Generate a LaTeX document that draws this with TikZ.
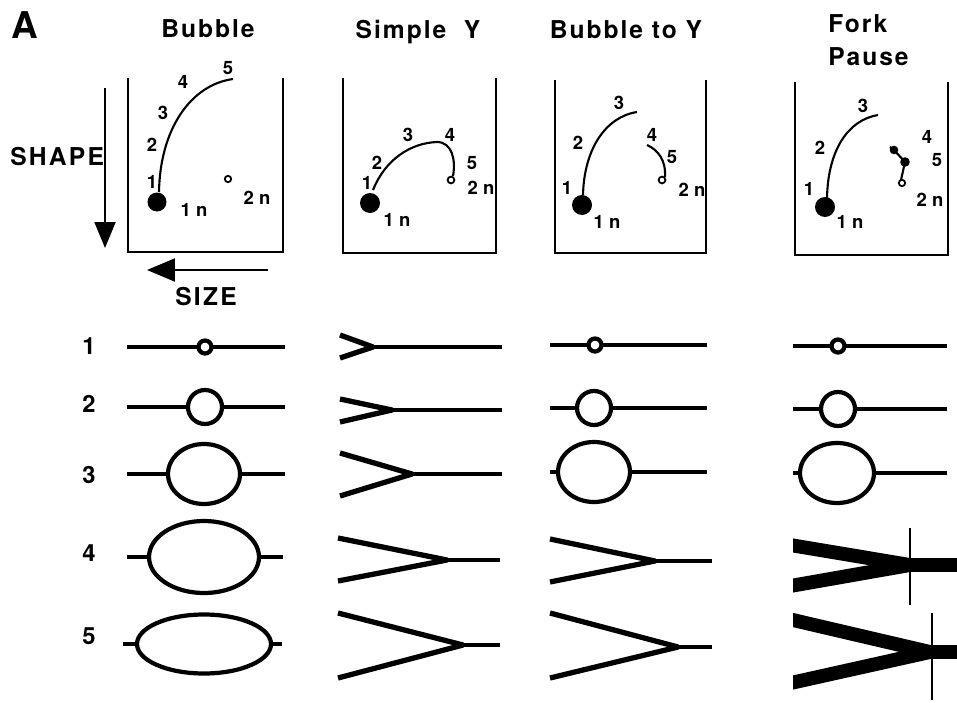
\documentclass[tikz,border=0pt]{standalone}
\usepackage{fontspec}
\setmainfont{TeX Gyre Heros}
\newfontfamily\headfont{TeX Gyre Heros}[LetterSpace=8]
\newfontfamily\axisfont{TeX Gyre Heros}[LetterSpace=9]
\usetikzlibrary{arrows.meta}

\begin{document}
\begin{tikzpicture}[x=0.02cm, y=-0.02cm,
    hdr/.style={font=\headfont\bfseries\fontsize{14}{16}\selectfont, anchor=base},
    num/.style={font=\bfseries\fontsize{10.5}{12}\selectfont},
    row/.style={font=\bfseries\fontsize{13.5}{15}\selectfont},
    axis/.style={font=\axisfont\bfseries\fontsize{14}{16}\selectfont},
    wall/.style={line width=1.4pt},
    track/.style={line width=1.2pt},
    bub/.style={line width=2.4pt},
    fork/.style={line width=3pt, line join=round},
    fatfork/.style={line width=7.9pt},
  ]
  \useasboundingbox (0,0) rectangle (957,703);

  % titles
  \node[font=\bfseries\fontsize{21}{24}\selectfont, anchor=base west, inner sep=0pt] (lblA) at (11,38) {A};
  \node[hdr] (tBubble) at (208,37) {Bubble};
  \node[hdr] (tSimple) at (418,38) {Simple\ \ Y};
  \node[hdr] (tBubY) at (626,38) {Bubble to Y};
  \node[hdr, anchor=base west, inner sep=0pt] (tFork) at (828,32) {Fork};
  \node[hdr, anchor=base west, inner sep=0pt] (tPause) at (828,65) {Pause};

  % axes
  \node[axis, anchor=base west, inner sep=0pt] (shape) at (10,165) {SHAPE};
  \draw[line width=1.2pt, -{Triangle[length=0.52cm, width=0.42cm]}] (105,88) -- (105,248);
  \node[axis, anchor=base, inner sep=0pt] (size) at (206,305) {SIZE};
  \draw[line width=1.2pt, -{Triangle[length=0.56cm, width=0.46cm]}] (268,270) -- (147,270);

  % --- Bubble box
  \draw[wall] (128,78) -- (128,252) -- (283,252) -- (283,78);
  \draw[track] (159,192) .. controls (160,130) and (190,85) .. (233,79);
  \fill (157,202) circle [radius=9.5];
  \draw[line width=1pt] (228,179) circle [radius=3.2];
  \node[num] (b1) at (152,182) {1};
  \node[num] (b2) at (152,145) {2};
  \node[num] (b3) at (163,113) {3};
  \node[num] (b4) at (183,82) {4};
  \node[num] (b5) at (228,68) {5};
  \node[num] (b1n) at (194,210) {1 n};
  \node[num] (b2n) at (257,198) {2 n};

  % --- Simple Y box
  \draw[wall] (343,78) -- (343,253) -- (496,253) -- (496,78);
  \draw[track] (373,190) .. controls (385,160) and (410,143) .. (437,142)
                .. controls (452,142) and (456,160) .. (453,176);
  \fill (370,203) circle [radius=10];
  \draw[line width=1pt] (451,180) circle [radius=3.4];
  \node[num] (s1) at (367,183) {1};
  \node[num] (s2) at (377,163) {2};
  \node[num] (s3) at (408,135) {3};
  \node[num] (s4) at (450,135) {4};
  \node[num] (s5) at (472,163) {5};
  \node[num] (s2n) at (481,188) {2 n};
  \node[num] (s1n) at (397,220) {1 n};

  % --- Bubble to Y box
  \draw[wall] (555,80) -- (555,253) -- (706,253) -- (706,80);
  \draw[track] (583,195) .. controls (584,150) and (605,117) .. (637,112);
  \draw[track] (647,145) .. controls (658,150) and (666,160) .. (665,177);
  \fill (582,205) circle [radius=10];
  \draw[line width=1pt] (662,180) circle [radius=3.4];
  \node[num] (y1) at (567,188) {1};
  \node[num] (y2) at (578,143) {2};
  \node[num] (y3) at (619,103) {3};
  \node[num] (y4) at (652,135) {4};
  \node[num] (y5) at (672,157) {5};
  \node[num] (y2n) at (692,190) {2 n};
  \node[num] (y1n) at (607,222) {1 n};

  % --- Fork pause box
  \draw[wall] (795,82) -- (795,255) -- (948,255) -- (948,82);
  \draw[track] (827,198) .. controls (828,150) and (848,120) .. (878,115);
  \draw[track] (890,147) -- (894,150) -- (905,162) -- (901,180);
  \fill (825,207) circle [radius=10];
  \fill (894,150) circle [radius=4.3];
  \fill (905,162) circle [radius=4.8];
  \draw[line width=1pt] (902,183) circle [radius=3.2];
  \node[num] (f1) at (809,189) {1};
  \node[num] (f2) at (820,148) {2};
  \node[num] (f3) at (863,106) {3};
  \node[num] (f4) at (927,137) {4};
  \node[num] (f5) at (937,160) {5};
  \node[num] (f2n) at (930,200) {2 n};
  \node[num] (f1n) at (850,222) {1 n};

  % row numbers
  \foreach \n/\y in {1/346,2/404,3/475,4/553,5/636}
    \node[row] (row\n) at (89,\y) {\n};

  % --- Bubble column
  \draw[bub] (127,347) -- (285,347);
  \draw[bub, fill=white] (205,347) circle [radius=6.5];
  \draw[bub] (127,407) -- (285,407);
  \draw[bub, fill=white] (205,407) circle [radius=17];
  \draw[bub] (127,474) -- (285,474);
  \draw[bub, fill=white] (204,474) ellipse [x radius=36, y radius=30];
  \draw[bub] (127,557) -- (283,557);
  \draw[bub, fill=white] (204,557) ellipse [x radius=55, y radius=36];
  \draw[bub] (123,644) -- (282,644);
  \draw[bub, fill=white] (204,644) ellipse [x radius=67, y radius=29.5];

  % --- Simple Y column
  \draw[fork] (340,335) -- (373,347) -- (340,358);
  \draw[bub] (373,347) -- (502,347);
  \draw[fork] (340,399) -- (392,410) -- (340,422);
  \draw[bub] (392,410) -- (502,410);
  \draw[fork] (340,453) -- (412,474) -- (340,496);
  \draw[bub] (412,474) -- (502,474);
  \draw[fork] (338,538) -- (447,560) -- (338,581);
  \draw[bub] (447,560) -- (500,560);
  \draw[fork] (338,613) -- (463,645) -- (338,678);
  \draw[bub] (463,645) -- (500,645);

  % --- Bubble to Y column
  \draw[bub] (550,345) -- (707,345);
  \draw[bub, fill=white] (595,345) circle [radius=6.5];
  \draw[bub] (550,408) -- (707,408);
  \draw[bub, fill=white] (594,408) circle [radius=17];
  \draw[bub] (550,472) -- (707,472);
  \draw[bub, fill=white] (594,472) ellipse [x radius=36, y radius=30];
  \draw[fork] (550,539) -- (655,561) -- (550,582);
  \draw[bub] (655,561) -- (712,561);
  \draw[fork] (550,613) -- (678,647) -- (550,678);
  \draw[bub] (678,647) -- (712,647);

  % --- Fork pause column
  \draw[bub] (793,346) -- (947,346);
  \draw[bub, fill=white] (838,346) circle [radius=6.5];
  \draw[bub] (793,409) -- (947,409);
  \draw[bub, fill=white] (838,409) circle [radius=17];
  \draw[bub] (793,473) -- (947,473);
  \draw[bub, fill=white] (837,473) ellipse [x radius=37, y radius=30];
  \begin{scope}
    \clip (793,500) rectangle (957,703);
    \draw[fatfork] (780,543.3) -- (910,565);
    \draw[fatfork] (780,587.8) -- (910,565);
    \draw[fatfork] (900,565) -- (960,565);
    \draw[fatfork] (780,617) -- (930,652);
    \draw[fatfork] (780,685.4) -- (930,652);
    \draw[fatfork] (920,652) -- (960,652);
  \end{scope}
  \draw[line width=1.1pt] (910,528) -- (910,605);
  \draw[line width=1.1pt] (932,613) -- (932,700);
\end{tikzpicture}
\end{document}
